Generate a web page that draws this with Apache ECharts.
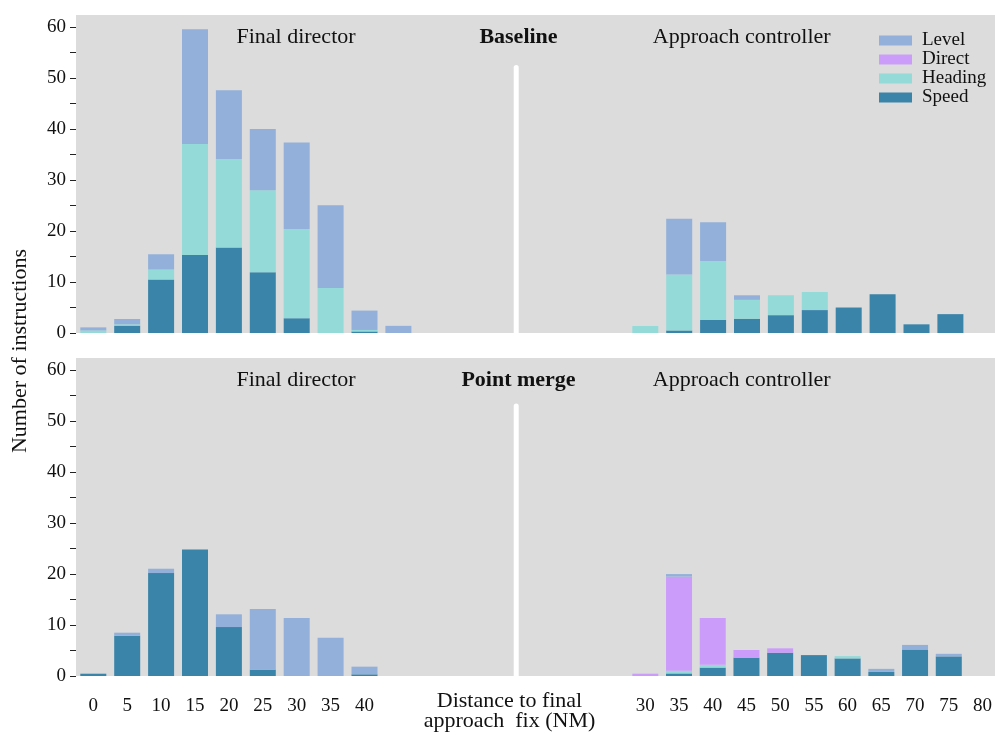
<!DOCTYPE html>
<html>
<head>
<meta charset="utf-8">
<script src="https://cdn.jsdelivr.net/npm/echarts@6/dist/echarts.min.js"></script>
<style>
  html, body { margin: 0; padding: 0; background: #ffffff; }
  #chart { width: 995px; height: 735px; }
</style>
</head>
<body>
<div id="chart"></div>
<script>
// Distance bins (NM) for each side of the panels
const finalDirectorBins = ['0', '5', '10', '15', '20', '25', '30', '35', '40', '45'];
const approachBins = ['30', '35', '40', '45', '50', '55', '60', '65', '70', '75', '80'];

// Tick labels
const finalDirectorTicks = ['0', '5', '10', '15', '20', '25', '30', '35', '40'];
const yTickLabels = [0, 10, 20, 30, 40, 50, 60];
const yMinorTicks = [0, 5, 10, 15, 20, 25, 30, 35, 40, 45, 50, 55, 60];

const instructionTypes = ['Level', 'Direct', 'Heading', 'Speed'];

// Baseline - final director (0 … 45 NM)
const baseFinalSpeed   = [0, 1.45, 10.5, 15.3, 16.8, 11.9, 2.9, 0, 0.3, 0];
const baseFinalHeading = [0.5, 0.25, 1.95, 21.8, 17.35, 16.1, 17.5, 8.85, 0.3, 0];
const baseFinalDirect  = [0, 0, 0, 0, 0, 0, 0, 0, 0, 0];
const baseFinalLevel   = [0.6, 1.05, 3.0, 22.5, 13.5, 12.05, 17.0, 16.2, 3.8, 1.4];

// Baseline - approach controller (30 … 75 NM)
const baseApprSpeed   = [0, 0.5, 2.55, 2.8, 3.5, 4.5, 5.0, 7.6, 1.7, 3.7];
const baseApprHeading = [1.37, 11.0, 11.6, 3.7, 3.9, 3.55, 0, 0, 0, 0];
const baseApprDirect  = [0, 0, 0, 0, 0, 0, 0, 0, 0, 0];
const baseApprLevel   = [0, 10.9, 7.6, 0.9, 0, 0, 0, 0, 0, 0];

// Point merge - final director (0 … 45 NM)
const pmFinalSpeed   = [0.45, 7.9, 20.2, 24.8, 9.6, 1.25, 0, 0, 0.33, 0];
const pmFinalHeading = [0, 0, 0, 0, 0, 0, 0, 0, 0, 0];
const pmFinalDirect  = [0, 0, 0, 0, 0, 0, 0, 0, 0, 0];
const pmFinalLevel   = [0, 0.6, 0.85, 0, 2.5, 11.9, 11.4, 7.5, 1.5, 0];

// Point merge - approach controller (30 … 75 NM)
const pmApprSpeed   = [0, 0.5, 1.65, 3.6, 4.58, 4.1, 3.45, 0.8, 5.2, 3.85];
const pmApprHeading = [0, 0.55, 0.55, 0, 0, 0, 0.45, 0, 0, 0];
const pmApprDirect  = [0.45, 18.45, 9.2, 1.5, 0.85, 0, 0, 0, 0, 0];
const pmApprLevel   = [0, 0.5, 0, 0, 0, 0, 0, 0.6, 0.9, 0.5];

const panelTitles = ['Baseline', 'Point merge'];
const sideTitles = ['Final director', 'Approach controller'];

// ---------------------------------------------------------------
const FONT = "'Liberation Serif', 'Times New Roman', serif";
const COLORS = { Level: '#92b0da', Direct: '#cb9cfa', Heading: '#93dad8', Speed: '#3a84aa' };
const Y_MAX = 62.4;

const panelTops = [15, 358];
const PANEL_H = 318;
const BAND = 33.9;                 // one 5 NM bin in pixels
const finalFirstTick = 93.3;       // centre of the 0 NM bin
const apprFirstTick = 645.3;       // centre of the 30 NM bin

const grids = [];
const xAxes = [];
const yAxes = [];
const series = [];

const panelData = [
  [
    { Speed: baseFinalSpeed, Heading: baseFinalHeading, Direct: baseFinalDirect, Level: baseFinalLevel },
    { Speed: baseApprSpeed, Heading: baseApprHeading, Direct: baseApprDirect, Level: baseApprLevel }
  ],
  [
    { Speed: pmFinalSpeed, Heading: pmFinalHeading, Direct: pmFinalDirect, Level: pmFinalLevel },
    { Speed: pmApprSpeed, Heading: pmApprHeading, Direct: pmApprDirect, Level: pmApprLevel }
  ]
];
const stackOrder = ['Speed', 'Heading', 'Direct', 'Level'];

panelTops.forEach((top, p) => {
  const showX = p === 1;

  // panel frame: grey background, y axis and the white divider
  grids.push({ left: 76, right: 0, top: top, height: PANEL_H, show: true,
    backgroundColor: '#dcdcdc', borderWidth: 0 });
  let gi = grids.length - 1;
  xAxes.push({ gridIndex: gi, type: 'value', min: 0, max: 100, show: false });
  yAxes.push({
    gridIndex: gi, type: 'value', min: 0, max: Y_MAX,
    axisLine: { show: false, onZero: false },
    splitLine: { show: false },
    axisTick: { show: true, length: 6, customValues: yMinorTicks, lineStyle: { color: '#222', width: 1 } },
    axisLabel: { customValues: yTickLabels, margin: 10, color: '#111', fontFamily: FONT, fontSize: 19 }
  });
  series.push({
    type: 'line', name: 'divider', xAxisIndex: gi, yAxisIndex: gi,
    symbol: 'none', silent: true, z: 1,
    lineStyle: { color: '#ffffff', width: 5, cap: 'round' },
    data: [[47.9, 0], [47.9, p === 0 ? 52.1 : 53.0]]
  });

  // bins sit on the tick positions (boundaryGap off), one band apart
  const sides = [
    { left: finalFirstTick, cats: finalDirectorBins,
      fmt: v => (finalDirectorTicks.indexOf(v) >= 0 ? v : '') },
    { left: apprFirstTick, cats: approachBins, fmt: v => v }
  ];
  sides.forEach((s, side) => {
    grids.push({ left: s.left, top: top, height: PANEL_H, width: (s.cats.length - 1) * BAND, show: false });
    gi = grids.length - 1;
    xAxes.push({
      gridIndex: gi, type: 'category', data: s.cats, boundaryGap: false,
      axisLine: { show: false }, axisTick: { show: false }, splitLine: { show: false },
      axisLabel: { show: showX, interval: 0, formatter: s.fmt, margin: 21,
        color: '#111', fontFamily: FONT, fontSize: 19 }
    });
    yAxes.push({ gridIndex: gi, type: 'value', min: 0, max: Y_MAX, show: false, splitLine: { show: false } });
    const d = panelData[p][side];
    stackOrder.forEach(name => {
      series.push({
        type: 'bar', name: name,
        xAxisIndex: gi, yAxisIndex: gi,
        stack: 'stack' + gi,
        barWidth: 26,
        clip: false,
        itemStyle: { color: COLORS[name] },
        data: d[name],
        silent: true
      });
    });
  });
});

const graphics = [];
panelTops.forEach((top, p) => {
  const cy = top + 22.5;
  graphics.push({ type: 'text', x: 296, y: cy,
    style: { text: sideTitles[0], font: `22px ${FONT}`, fill: '#111', align: 'center', verticalAlign: 'middle' } });
  graphics.push({ type: 'text', x: 518.5, y: cy,
    style: { text: panelTitles[p], font: `bold 22px ${FONT}`, fill: '#111', align: 'center', verticalAlign: 'middle' } });
  graphics.push({ type: 'text', x: 741.7, y: cy,
    style: { text: sideTitles[1], font: `22px ${FONT}`, fill: '#111', align: 'center', verticalAlign: 'middle' } });
});
graphics.push({ type: 'text', x: 509.5, y: 701.5,
  style: { text: 'Distance to final', font: `22px ${FONT}`, fill: '#111', align: 'center', verticalAlign: 'middle' } });
graphics.push({ type: 'text', x: 509.5, y: 721.5,
  style: { text: 'approach  fix (NM)', font: `22px ${FONT}`, fill: '#111', align: 'center', verticalAlign: 'middle' } });
graphics.push({ type: 'text', x: 20, y: 351, rotation: Math.PI / 2,
  style: { text: 'Number of instructions', font: `22px ${FONT}`, fill: '#111', align: 'center', verticalAlign: 'middle' } });

const chart = echarts.init(document.getElementById('chart'), null, { renderer: 'canvas' });
chart.setOption({
  animation: false,
  backgroundColor: '#ffffff',
  textStyle: { fontFamily: FONT },
  grid: grids,
  xAxis: xAxes,
  yAxis: yAxes,
  legend: {
    data: instructionTypes,
    orient: 'vertical',
    left: 879, top: 31,
    padding: 0,
    itemWidth: 33, itemHeight: 10, itemGap: 0,
    icon: 'rect',
    selectedMode: false,
    textStyle: { fontFamily: FONT, fontSize: 19, color: '#111', lineHeight: 18.5, padding: [0, 0, 0, 5] }
  },
  series: series,
  graphic: graphics
});
</script>
</body>
</html>
